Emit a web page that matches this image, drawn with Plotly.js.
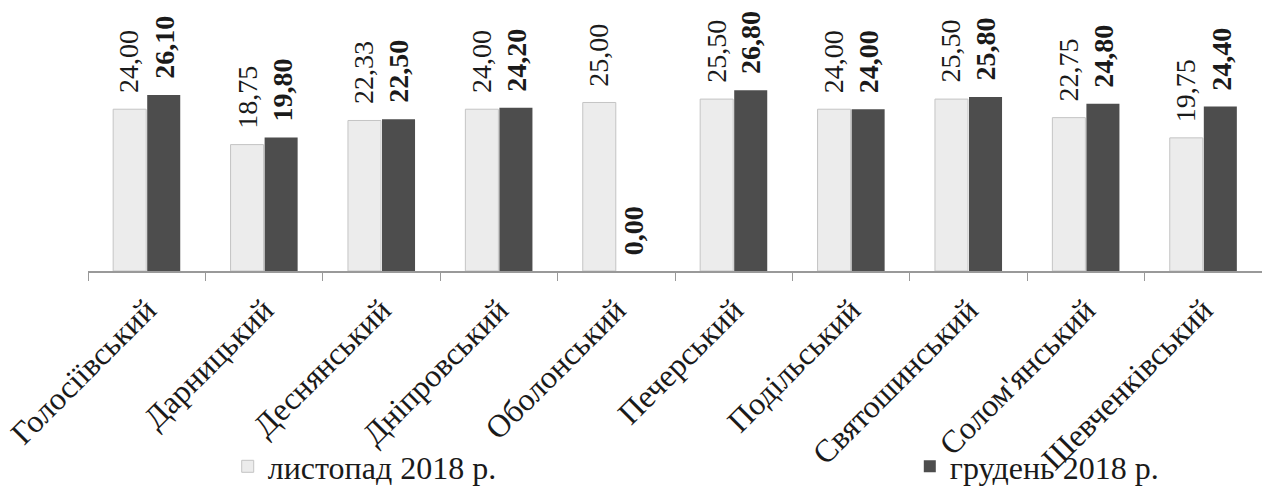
<!DOCTYPE html>
<html>
<head>
<meta charset="utf-8">
<script src="https://cdn.plot.ly/plotly-3.0.1.min.js"></script>
<style>html,body{margin:0;padding:0;background:#fff;}#chart{width:1262px;height:494px;}</style>
</head>
<body>
<div id="chart"></div>
<script>
var categories = ['Голосіївський','Дарницький','Деснянський','Дніпровський','Оболонський','Печерський','Подільський','Святошинський','Солом\'янський','Шевченківський'];
var novValues = [24.00, 18.75, 22.33, 24.00, 25.00, 25.50, 24.00, 25.50, 22.75, 19.75];
var decValues = [26.10, 19.80, 22.50, 24.20, 0.00, 26.80, 24.00, 25.80, 24.80, 24.40];
var seriesNames = ['листопад 2018 р.', 'грудень 2018 р.'];

function fmt(v){ return v.toFixed(2).replace('.', ','); }

var serif = 'Liberation Serif, Times New Roman, serif';

var traces = [
  {
    type: 'bar', name: seriesNames[0], x: categories, y: novValues, legend: 'legend',
    marker: {color: '#ececec', line: {color: '#c4c4c4', width: 1}},
    hoverinfo: 'none'
  },
  {
    type: 'bar', name: seriesNames[1], x: categories, y: decValues, legend: 'legend2',
    marker: {color: '#4d4d4d', line: {color: '#333333', width: 0}},
    hoverinfo: 'none'
  }
];

var annotations = [];
var seriesVals = [novValues, decValues];
var shifts = [-17.5, 17.5];
for (var s = 0; s < 2; s++) {
  for (var i = 0; i < categories.length; i++) {
    annotations.push({
      x: categories[i], y: seriesVals[s][i], xref: 'x', yref: 'y',
      text: fmt(seriesVals[s][i]), textangle: -90, showarrow: false,
      xanchor: 'center', yanchor: 'bottom', xshift: shifts[s], yshift: 14,
      font: {family: serif, size: 28, color: '#1a1a1a', weight: s === 1 ? 'bold' : 'normal'}
    });
  }
}

var legendBase = {
  orientation: 'h', xanchor: 'left', y: -0.72, yanchor: 'middle',
  font: {family: serif, size: 32, color: '#1a1a1a'},
  bgcolor: 'rgba(0,0,0,0)', itemwidth: 30
};

var layout = {
  width: 1262, height: 494,
  margin: {l: 88, r: 0, t: 0, b: 222},
  paper_bgcolor: '#ffffff', plot_bgcolor: '#ffffff',
  barmode: 'group', bargap: 0.42, bargroupgap: 0.03,
  showlegend: true,
  font: {family: serif, color: '#1a1a1a'},
  xaxis: {
    type: 'category', tickangle: -45, showline: true, linecolor: '#999999', linewidth: 1.5,
    ticks: 'outside', tickson: 'boundaries', ticklen: 8, tickcolor: '#999999', automargin: false,
    ticklabelstandoff: 6,
    tickfont: {family: serif, size: 32, color: '#1a1a1a'}, showgrid: false, zeroline: false
  },
  yaxis: {range: [0, 40.2], visible: false, showgrid: false, zeroline: false, automargin: false},
  legend: Object.assign({}, legendBase, {x: 0.119}),
  legend2: Object.assign({}, legendBase, {x: 0.700}),
  annotations: annotations
};

Plotly.newPlot('chart', traces, layout, {displayModeBar: false, staticPlot: true});
</script>
</body>
</html>
